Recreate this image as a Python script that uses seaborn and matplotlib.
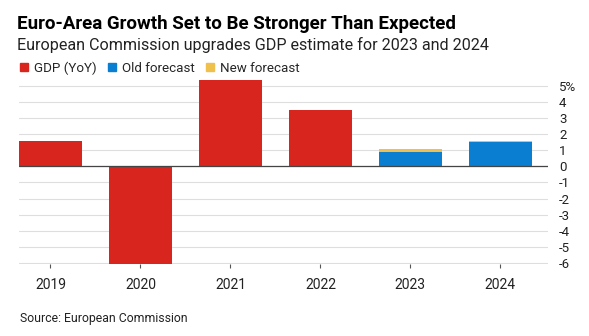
import matplotlib
matplotlib.use("Agg")
import matplotlib.pyplot as plt
import seaborn as sns
import pandas as pd
from matplotlib.patches import Patch

# ---- data ----
years = ["2019", "2020", "2021", "2022", "2023", "2024"]
gdp_years = ["2019", "2020", "2021", "2022"]
gdp_values = [1.6, -6.1, 5.4, 3.5]
forecast_years = ["2023", "2024"]
old_forecast = [0.9, 1.5]
new_forecast = [1.1, 1.6]
y_ticks = [5, 4, 3, 2, 1, 0, -1, -2, -3, -4, -5, -6]
y_tick_labels = ["5%", "4", "3", "2", "1", "0", "-1", "-2", "-3", "-4", "-5", "-6"]

RED = "#d8261e"
BLUE = "#0a7fd2"
YELLOW = "#f0c04c"

sns.set_theme(style="white")
plt.rcParams['font.family'] = ['Roboto', 'Liberation Sans', 'DejaVu Sans']

W, H = 589, 336
fig = plt.figure(figsize=(W / 100, H / 100), dpi=100)
ax = fig.add_axes([19 / W, 1 - 264 / H, (548 - 19) / W, (264 - 79) / H])

gdp_df = pd.DataFrame({"year": gdp_years, "value": gdp_values})
new_df = pd.DataFrame({"year": forecast_years, "value": new_forecast})
old_df = pd.DataFrame({"year": forecast_years, "value": old_forecast})

common = dict(x="year", y="value", order=years, width=0.7, saturation=1,
              linewidth=0, ax=ax, zorder=2)
sns.barplot(data=new_df, color=YELLOW, **common)
sns.barplot(data=old_df, color=BLUE, **common)
sns.barplot(data=gdp_df, color=RED, **common)

ax.set_xlim(-0.35, 5.53)
ax.set_ylim(-6.08, 5.45)
ax.set_xlabel("")
ax.set_ylabel("")

for s in ax.spines.values():
    s.set_visible(False)

ax.yaxis.tick_right()
ax.set_yticks(y_ticks)
ax.set_yticklabels(y_tick_labels)
ax.yaxis.grid(True, color="#dedede", lw=0.8)
ax.set_axisbelow(True)
ax.tick_params(axis="y", length=0, pad=8, labelsize=9.5, labelcolor="#222222")
ax.tick_params(axis="x", length=3, width=0.8, color="#555555", pad=7,
               labelsize=10, labelcolor="#222222", bottom=True)
ax.axhline(0, color="#444444", lw=0.9, zorder=3)

# ---- text ----
def px(y):
    return 1 - y / H

fig.text(17 / W, px(29), "Euro-Area Growth Set to Be Stronger Than Expected",
         fontsize=13.5, fontweight="bold", color="#000000", va="baseline")
fig.text(17 / W, px(50), "European Commission upgrades GDP estimate for 2023 and 2024",
         fontsize=11.6, color="#222222", va="baseline")

handles = [Patch(color=RED, label="GDP (YoY)"),
           Patch(color=BLUE, label="Old forecast"),
           Patch(color=YELLOW, label="New forecast")]
fig.legend(handles=handles, loc="center left", bbox_to_anchor=(16 / W, px(68)),
           ncol=3, frameon=False, fontsize=9.6, handlelength=0.6, handleheight=0.6,
           handletextpad=0.45, columnspacing=0.85, borderaxespad=0, borderpad=0.3)

fig.text(20 / W, px(322), "Source: European Commission",
         fontsize=8.8, color="#222222", va="baseline")

fig.savefig("out.png", dpi=100, facecolor="white")
